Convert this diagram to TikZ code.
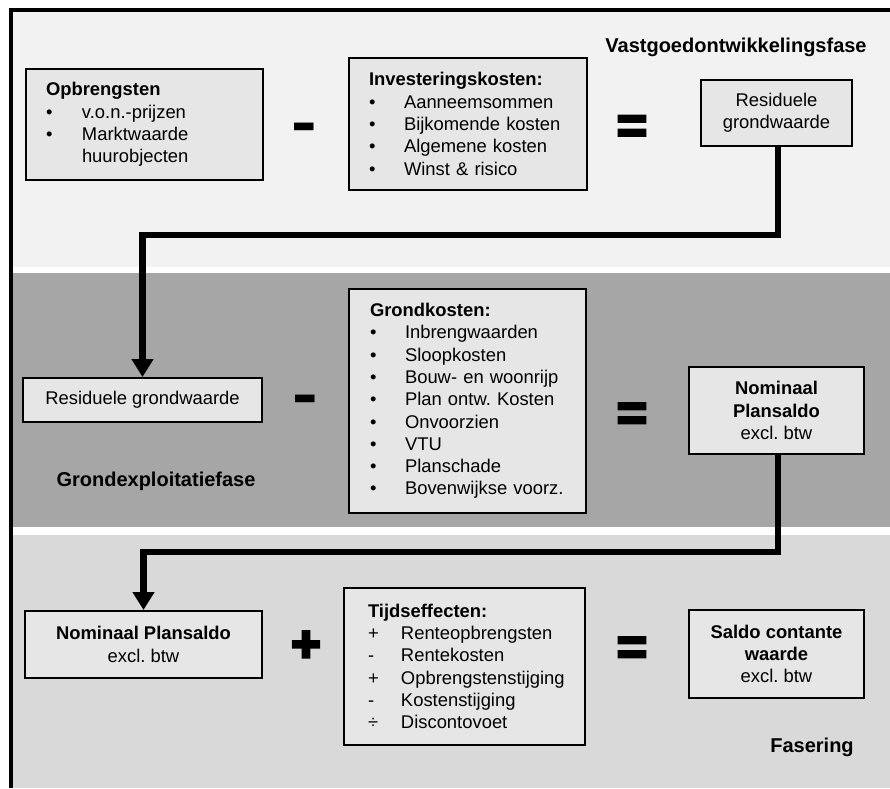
\documentclass[tikz,border=0pt]{standalone}
\usepackage{fontspec}
\setmainfont{Liberation Sans}
\newfontface\opfontA{Liberation Sans Bold}[FakeBold=5]
\newfontface\opfontB{Liberation Sans Bold}[FakeBold=6]
\usetikzlibrary{arrows.meta}
\definecolor{bandA}{HTML}{F2F2F2}
\definecolor{bandB}{HTML}{A6A6A6}
\definecolor{bandC}{HTML}{D9D9D9}
\definecolor{boxfill}{HTML}{E6E6E6}
\newcommand{\bl}[1]{\makebox[#1][l]{\textbullet}}
\newcommand{\sy}[1]{\makebox[33pt][l]{#1}}
\frenchspacing
\begin{document}
\frenchspacing
\begin{tikzpicture}[x=1pt,y=-1pt,
  box/.style={draw=black, line width=2pt, fill=boxfill, inner sep=0pt, font=\fontsize{18.4}{22.3}\selectfont\frenchspacing},
  listbox/.style={box, align=left, anchor=north west},
  valbox/.style={box, align=center},
  phase/.style={font=\fontsize{20}{24}\selectfont\bfseries, inner sep=0pt},
  conn/.style={line width=6.5pt, -{Triangle[width=21pt,length=18pt]}},
  op/.style={inner sep=0pt, anchor=base}]
\useasboundingbox (0,0) rectangle (890,788);
% bands
\fill[bandA] (11,9.5) rectangle (890,267);
\fill[bandB] (11,273) rectangle (890,527);
\fill[bandC] (11,535) rectangle (890,788);
\draw[line width=4pt] (11,788) |- (890,9.5);
% phase labels
\node[phase] (ph1) at (736,47) {Vastgoedontwikkelingsfase};
\node[phase] (ph2) at (156,481) {Grondexploitatiefase};
\node[phase] (ph3) at (812,747) {Fasering};
% row 1
\node[listbox, minimum width=237pt, minimum height=111pt, text width=197pt, inner xsep=20pt] (opb) at (25,68)
  {\textbf{Opbrengsten}\\\bl{36pt}v.o.n.-prijzen\\\bl{36pt}Marktwaarde\\\hspace*{36pt}huurobjecten};
\node[listbox, minimum width=238pt, minimum height=132pt, text width=198pt, inner xsep=20pt] (inv) at (348,57)
  {\textbf{Investeringskosten:}\\\bl{35pt}Aanneemsommen\\\bl{35pt}Bijkomende kosten\\\bl{35pt}Algemene kosten\\\bl{35pt}Winst \& risico};
\node[valbox, minimum width=151pt, minimum height=66pt] (rgw1) at (776.5,113) {Residuele\\grondwaarde};
\node[op, font=\fontsize{64}{64}\selectfont\bfseries] (min1) at (304,143.6) {\scalebox{1.2}[1]{-}};
\node[op, font=\fontsize{52}{52}\selectfont\opfontA] (eq1) at (632,143) {=};
% row 2
\node[valbox, minimum width=239pt, minimum height=44pt] (rgw2) at (142.5,400) {Residuele grondwaarde};
\node[listbox, minimum width=237pt, minimum height=224pt, text width=195pt, inner xsep=21pt] (grk) at (348,288)
  {\textbf{Grondkosten:}\\\bl{35pt}Inbrengwaarden\\\bl{35pt}Sloopkosten\\\bl{35pt}Bouw- en woonrijp\\\bl{35pt}Plan ontw. Kosten\\\bl{35pt}Onvoorzien\\\bl{35pt}VTU\\\bl{35pt}Planschade\\\bl{35pt}Bovenwijkse voorz.};
\node[valbox, minimum width=175pt, minimum height=87pt] (nps1) at (776.5,410.5) {\textbf{Nominaal}\\\textbf{Plansaldo}\\excl. btw};
\node[op, font=\fontsize{64}{64}\selectfont\bfseries] (min2) at (305,415.6) {\scalebox{1.2}[1]{-}};
\node[op, font=\fontsize{52}{52}\selectfont\opfontA] (eq2) at (632,430.5) {=};
% row 3
\node[valbox, minimum width=237pt, minimum height=67pt] (nps2) at (143.5,644.5) {\textbf{Nominaal Plansaldo}\\excl. btw};
\node[listbox, minimum width=241pt, minimum height=157pt, text width=193pt, inner xsep=24pt] (tijd) at (343,587)
  {\textbf{Tijdseffecten:}\\\sy{+}Renteopbrengsten\\\sy{-}Rentekosten\\\sy{+}Opbrengstenstijging\\\sy{-}Kostenstijging\\\sy{÷}Discontovoet};
\node[valbox, minimum width=175pt, minimum height=88pt] (scw) at (776.5,654) {\textbf{Saldo contante}\\\textbf{waarde}\\excl. btw};
\node[op, font=\fontsize{50}{50}\selectfont\opfontB] (pl) at (306,661) {+};
\node[op, font=\fontsize{52}{52}\selectfont\opfontA] (eq3) at (632,664.5) {=};
% connectors
\coordinate (k1) at (778,235);
\coordinate (k2) at (778,552);
\draw[conn] (rgw1.south -| k1) -- (k1) -| (rgw2.north);
\draw[conn] (nps1.south -| k2) -- (k2) -| (nps2.north);
\end{tikzpicture}
\end{document}
